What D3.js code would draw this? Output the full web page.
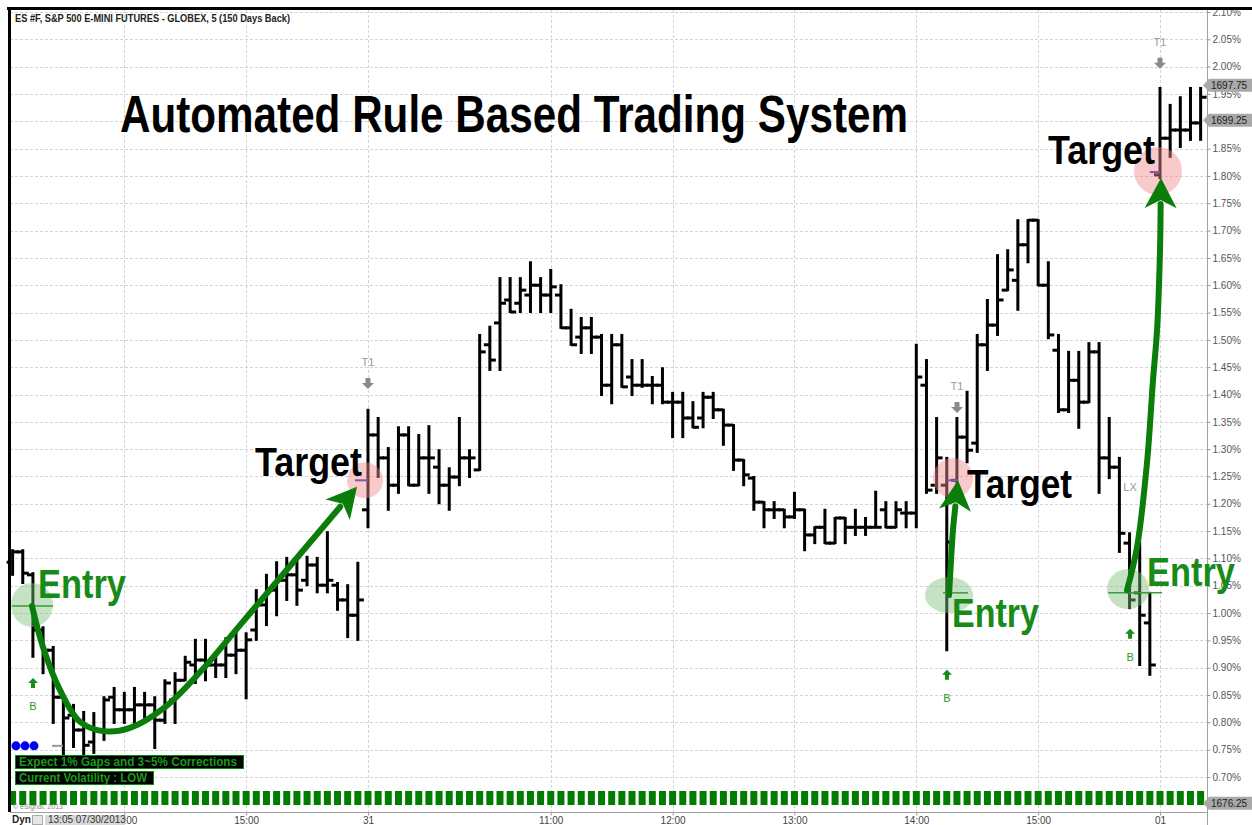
<!DOCTYPE html>
<html>
<head>
<meta charset="utf-8">
<script src="https://cdn.jsdelivr.net/npm/d3@7"></script>
<style>
body { margin: 0; background: #fff; }
svg { display: block; }
text { font-family: "Liberation Sans", Arial, sans-serif; }
.narrow { font-family: "Liberation Sans Narrow", "Arial Narrow", "Liberation Sans", Arial, sans-serif; font-weight: bold; }
</style>
</head>
<body>
<div id="main"></div>
<script>
const ctx = {
    w: 1252,
    h: 825,
    x0: 12.6,
    step: 10.154,
    plotR: 1207,
    axisY: 812
};

// 5 minute OHLC bars, values in % (right axis)
const opens = [
    1.093, 1.112, 1.070, 0.969, 0.932, 0.846, 0.813, 0.786, 0.764, 0.786,
    0.846, 0.823, 0.823, 0.832, 0.832, 0.804, 0.841, 0.877, 0.905, 0.914,
    0.905, 0.905, 0.923, 0.932, 0.969, 1.015, 1.042, 1.060, 1.070, 1.060,
    1.088, 1.051, 1.051, 1.024, 0.996,
    1.189, 1.326, 1.284, 1.234, 1.326, 1.234, 1.284, 1.267, 1.234, 1.249,
    1.284, 1.262, 1.491, 1.531, 1.573, 1.567, 1.582, 1.600, 1.582, 1.582,
    1.522, 1.505, 1.522, 1.505, 1.417, 1.491, 1.432, 1.417, 1.417, 1.417,
    1.386, 1.386, 1.357, 1.357, 1.395, 1.372, 1.344, 1.280, 1.247, 1.203,
    1.189, 1.189, 1.176, 1.189, 1.143, 1.157, 1.128, 1.174, 1.157, 1.157,
    1.157, 1.189, 1.157, 1.183, 1.183, 1.417, 1.234, 1.234, 1.243, 1.322,
    1.311, 1.491, 1.527, 1.591, 1.609, 1.674, 1.719, 1.600, 1.481, 1.372,
    1.426, 1.386, 1.478, 1.284, 1.267, 1.128, 1.037, 0.982,
    1.802, 1.869, 1.884, 1.884, 1.897
];
const highs = [
    1.115, 1.115, 1.073, 0.974, 0.938, 0.846, 0.832, 0.819, 0.817, 0.846,
    0.863, 0.854, 0.863, 0.854, 0.846, 0.877, 0.890, 0.920, 0.951, 0.951,
    0.923, 0.954, 0.969, 0.963, 1.042, 1.070, 1.093, 1.101, 1.097, 1.103,
    1.101, 1.148, 1.055, 1.051, 1.092,
    1.372, 1.357, 1.302, 1.340, 1.340, 1.326, 1.342, 1.298, 1.265, 1.357,
    1.298, 1.509, 1.524, 1.613, 1.613, 1.613, 1.642, 1.613, 1.628, 1.600,
    1.555, 1.540, 1.540, 1.509, 1.509, 1.509, 1.463, 1.463, 1.432, 1.448,
    1.403, 1.403, 1.386, 1.403, 1.403, 1.372, 1.344, 1.280, 1.249, 1.203,
    1.203, 1.189, 1.220, 1.189, 1.157, 1.189, 1.174, 1.174, 1.189, 1.174,
    1.222, 1.203, 1.203, 1.203, 1.491, 1.463, 1.357, 1.284, 1.357, 1.405,
    1.509, 1.573, 1.655, 1.664, 1.719, 1.719, 1.719, 1.642, 1.509, 1.478,
    1.478, 1.494, 1.494, 1.357, 1.284, 1.146, 1.128, 1.037,
    1.961, 1.930, 1.944, 1.961, 1.961
];
const lows = [
    1.070, 1.055, 0.920, 0.890, 0.799, 0.731, 0.755, 0.731, 0.744, 0.768,
    0.799, 0.799, 0.799, 0.804, 0.753, 0.799, 0.799, 0.877, 0.872, 0.877,
    0.883, 0.883, 0.890, 0.844, 0.951, 0.978, 0.996, 1.024, 1.015, 1.051,
    1.038, 1.038, 1.006, 0.956, 0.951,
    1.157, 1.249, 1.189, 1.220, 1.234, 1.234, 1.220, 1.201, 1.189, 1.234,
    1.249, 1.262, 1.445, 1.445, 1.551, 1.551, 1.551, 1.551, 1.551, 1.522,
    1.491, 1.476, 1.476, 1.399, 1.384, 1.414, 1.399, 1.414, 1.384, 1.384,
    1.322, 1.322, 1.340, 1.340, 1.357, 1.308, 1.262, 1.234, 1.189, 1.157,
    1.174, 1.157, 1.174, 1.115, 1.128, 1.128, 1.128, 1.128, 1.143, 1.143,
    1.157, 1.157, 1.157, 1.157, 1.157, 1.220, 1.220, 0.932, 1.238, 1.276,
    1.295, 1.445, 1.509, 1.591, 1.555, 1.642, 1.600, 1.503, 1.368, 1.368,
    1.339, 1.386, 1.220, 1.247, 1.112, 1.009, 0.905, 0.887,
    1.796, 1.835, 1.853, 1.866, 1.866
];
const closes = [
    1.112, 1.073, 0.969, 0.932, 0.846, 0.808, 0.786, 0.758, 0.786, 0.841,
    0.823, 0.823, 0.832, 0.832, 0.804, 0.872, 0.877, 0.910, 0.914, 0.905,
    0.905, 0.923, 0.932, 0.951, 1.015, 1.042, 1.060, 1.070, 1.042, 1.088,
    1.051, 1.060, 1.024, 0.996, 1.024,
    1.326, 1.284, 1.234, 1.326, 1.234, 1.284, 1.284, 1.234, 1.249, 1.284,
    1.284, 1.478, 1.463, 1.567, 1.551, 1.591, 1.600, 1.582, 1.597, 1.522,
    1.491, 1.522, 1.505, 1.417, 1.491, 1.414, 1.417, 1.417, 1.417, 1.386,
    1.386, 1.357, 1.340, 1.395, 1.372, 1.344, 1.280, 1.253, 1.203, 1.189,
    1.189, 1.176, 1.189, 1.143, 1.157, 1.128, 1.174, 1.157, 1.157, 1.157,
    1.157, 1.157, 1.189, 1.183, 1.432, 1.225, 1.284, 1.130, 1.322, 1.298,
    1.491, 1.527, 1.573, 1.628, 1.674, 1.719, 1.600, 1.509, 1.372, 1.426,
    1.386, 1.478, 1.284, 1.267, 1.146, 1.024, 0.996, 0.905,
    1.869, 1.884, 1.884, 1.897, 1.944
];

// axes
const yTicks = [0.70, 0.75, 0.80, 0.85, 0.90, 0.95, 1.00, 1.05, 1.10, 1.15, 1.20,
    1.25, 1.30, 1.35, 1.40, 1.45, 1.50, 1.55, 1.60, 1.65, 1.70, 1.75, 1.80,
    1.85, 1.90, 1.95, 2.00, 2.05, 2.10];
const timeTickIdx = [11, 23, 35, 53, 65, 77, 89, 101, 113];
const timeTickLabels = ["14:00", "15:00", "31", "11:00", "12:00", "13:00", "14:00", "15:00", "01"];

// price flags on the right axis
const flagValues = [1.966, 1.902, 0.652];
const flagLabels = ["1697.75", "1699.25", "1676.25"];

// annotations, in [bar index, %]
const arrowPaths = [
    [[1.91, 1.013], [2.99, 0.938], [4.67, 0.859], [6.64, 0.801], [8.90, 0.784], [11.56, 0.790],
     [15.01, 0.828], [18.46, 0.892], [22.40, 0.978], [33.92, 1.231]],
    [[92.22, 1.033], [92.42, 1.097], [92.61, 1.152], [93.11, 1.243]],
    [[109.75, 1.042], [110.74, 1.121], [111.72, 1.275], [112.31, 1.426], [112.71, 1.518],
     [113.0, 1.664], [113.1, 1.796]]
];
const targetCircles = [[34.71, 1.243, 18], [92.61, 1.247, 20], [112.8, 1.809, 24]];
const entryCircles = [[1.91, 1.015, 21, 22], [92.22, 1.033, 24, 18], [109.85, 1.044, 21, 20]];
const entryLines = [[-0.06, 3.98, 1.013], [91.63, 94.09, 1.037], [107.9, 113.2, 1.037]];
const targetMarks = [[33.72, 35.0, 1.243], [92.02, 93.11, 1.243], [112.0, 113.0, 1.807]];
const buyMarks = [[2.01, 0.872], [92.02, 0.887], [110.05, 0.962]];
const t1Marks = [[35.0, 1.421], [93.01, 1.377], [113.0, 2.007]];
const targetTexts = [[23.87, 1.251, 107], [93.99, 1.211, 105], [101.97, 1.822, 107]];
const entryTexts = [[2.50, 1.027, 88], [92.51, 0.974, 87], [111.72, 1.049, 88]];
const blueDots = [0.33, 1.22, 2.11];

function createViz() {
    let svg = d3.select("#main").append("svg")
        .attr("width", ctx.w)
        .attr("height", ctx.h);

    let x = d3.scaleLinear()
        .domain([0, 117])
        .range([ctx.x0, ctx.x0 + 117 * ctx.step]);
    let y = d3.scaleLinear()
        .domain([0.70, 2.10])
        .range([777, 12]);

    // grid
    let grid = svg.append("g").attr("id", "grid");
    grid.selectAll("line.h").data(yTicks).enter().append("line")
        .attr("x1", 10).attr("x2", ctx.plotR)
        .attr("y1", (d) => Math.round(y(d)) + 0.5)
        .attr("y2", (d) => Math.round(y(d)) + 0.5)
        .attr("stroke", "#d4d4d4")
        .attr("stroke-dasharray", "3,2");
    grid.selectAll("line.v").data(timeTickIdx).enter().append("line")
        .attr("x1", (d) => Math.round(x(d)) + 0.5)
        .attr("x2", (d) => Math.round(x(d)) + 0.5)
        .attr("y1", 10).attr("y2", ctx.axisY)
        .attr("stroke", "#d4d4d4")
        .attr("stroke-dasharray", "3,2");

    // right axis
    let yAxis = d3.axisRight(y)
        .tickValues(yTicks)
        .tickFormat((d) => d.toFixed(2) + "%")
        .tickSize(3);
    let yAxisG = svg.append("g")
        .attr("transform", "translate(" + (ctx.plotR + 0.5) + ",0)")
        .call(yAxis);
    yAxisG.select(".domain").remove();
    yAxisG.selectAll("line").attr("stroke", "#999");
    yAxisG.selectAll("text")
        .attr("x", 5)
        .attr("fill", "#555")
        .style("font-size", "10px")
        .style("font-family", "'Liberation Sans', Arial, sans-serif");
    svg.append("line")
        .attr("x1", ctx.plotR + 0.5).attr("x2", ctx.plotR + 0.5)
        .attr("y1", 8).attr("y2", 825)
        .attr("stroke", "#a0a0a0");

    // bottom axis
    let xAxis = d3.axisBottom(x)
        .tickValues(timeTickIdx)
        .tickFormat((d, i) => timeTickLabels[i])
        .tickSize(3);
    let xAxisG = svg.append("g")
        .attr("transform", "translate(0," + (ctx.axisY + 0.5) + ")")
        .call(xAxis);
    xAxisG.select(".domain").remove();
    xAxisG.selectAll("line").attr("stroke", "#999");
    xAxisG.selectAll("text")
        .attr("y", 4)
        .attr("fill", "#444")
        .style("font-size", "10px")
        .style("font-family", "'Liberation Sans', Arial, sans-serif");
    svg.append("line")
        .attr("x1", 10).attr("x2", ctx.plotR)
        .attr("y1", ctx.axisY + 0.5).attr("y2", ctx.axisY + 0.5)
        .attr("stroke", "#a0a0a0");

    // bars
    let bars = d3.range(opens.length).map((i) => ({ i: i, o: opens[i], h: highs[i], l: lows[i], c: closes[i] }));
    let barG = svg.append("g").attr("id", "bars")
        .attr("stroke", "#000")
        .attr("stroke-width", 3);
    let bG = barG.selectAll("g").data(bars).enter().append("g");
    bG.append("line")
        .attr("x1", (d) => x(d.i)).attr("x2", (d) => x(d.i))
        .attr("y1", (d) => y(d.h) - 1).attr("y2", (d) => y(d.l) + 1);
    bG.append("line")
        .attr("x1", (d) => x(d.i) - 6).attr("x2", (d) => x(d.i))
        .attr("y1", (d) => y(d.o)).attr("y2", (d) => y(d.o));
    bG.append("line")
        .attr("x1", (d) => x(d.i)).attr("x2", (d) => x(d.i) + 6)
        .attr("y1", (d) => y(d.c)).attr("y2", (d) => y(d.c));

    // green indicator squares at bottom
    svg.append("g").selectAll("rect").data(bars).enter().append("rect")
        .attr("x", (d) => x(d.i) - 3.5)
        .attr("y", 791)
        .attr("width", 7)
        .attr("height", 14)
        .attr("fill", "#007d00");
    svg.append("text")
        .attr("x", 13).attr("y", 809)
        .attr("fill", "#888")
        .style("font-size", "7px")
        .text("© eSignal, 2013");

    // annotation layer
    let ann = svg.append("g").attr("id", "annotations");

    ann.selectAll("circle.entry").data(entryCircles).enter().append("ellipse")
        .attr("cx", (d) => x(d[0])).attr("cy", (d) => y(d[1]))
        .attr("rx", (d) => d[2]).attr("ry", (d) => d[3])
        .attr("fill", "#7fbf7f").attr("opacity", 0.45);
    ann.selectAll("circle.target").data(targetCircles).enter().append("circle")
        .attr("cx", (d) => x(d[0])).attr("cy", (d) => y(d[1]))
        .attr("r", (d) => d[2])
        .attr("fill", "#f08a8a").attr("opacity", 0.45);

    ann.selectAll("line.entry").data(entryLines).enter().append("line")
        .attr("x1", (d) => x(d[0])).attr("x2", (d) => x(d[1]))
        .attr("y1", (d) => y(d[2])).attr("y2", (d) => y(d[2]))
        .attr("stroke", "#3a9a3a").attr("stroke-width", 1.5);
    ann.selectAll("line.tgt").data(targetMarks).enter().append("line")
        .attr("x1", (d) => x(d[0])).attr("x2", (d) => x(d[1]))
        .attr("y1", (d) => y(d[2])).attr("y2", (d) => y(d[2]))
        .attr("stroke", "#8a4fb0").attr("stroke-width", 2);

    // blue dots and grey dash
    ann.selectAll("circle.blue").data(blueDots).enter().append("circle")
        .attr("cx", (d) => x(d)).attr("cy", y(0.757))
        .attr("r", 4.5).attr("fill", "#0000ee");
    ann.append("line")
        .attr("x1", x(3.88)).attr("x2", x(4.96))
        .attr("y1", y(0.757)).attr("y2", y(0.757))
        .attr("stroke", "#999").attr("stroke-width", 2);

    // big green arrows
    let line = d3.line().curve(d3.curveCatmullRom.alpha(0.5));
    arrowPaths.forEach(function (pts) {
        let px = pts.map((d) => [x(d[0]), y(d[1])]);
        let n = px.length;
        let tip = px[n - 1], prev = px[n - 2];
        let dx = tip[0] - prev[0], dy = tip[1] - prev[1];
        let len = Math.hypot(dx, dy);
        let ux = dx / len, uy = dy / len;
        let headL = 30, headW = 16;
        let base = [tip[0] - ux * headL, tip[1] - uy * headL];
        let body = px.slice(0, n - 1).concat([[base[0] + ux * 4, base[1] + uy * 4]]);
        ann.append("path")
            .attr("d", line(body))
            .attr("fill", "none")
            .attr("stroke", "#0b7d0b")
            .attr("stroke-width", 6)
            .attr("stroke-linecap", "round");
        ann.append("polygon")
            .attr("points", [
                tip,
                [base[0] - uy * headW, base[1] + ux * headW],
                [base[0] + ux * 8, base[1] + uy * 8],
                [base[0] + uy * headW, base[1] - ux * headW]
            ].map((p) => p.join(",")).join(" "))
            .attr("fill", "#0b7d0b");
    });

    // buy markers
    let upArrow = "0,-5 5,0 2,0 2,5 -2,5 -2,0 -5,0";
    let bm = ann.selectAll("g.buy").data(buyMarks).enter().append("g")
        .attr("transform", (d) => "translate(" + x(d[0]) + "," + y(d[1]) + ")");
    bm.append("polygon").attr("points", upArrow).attr("fill", "#1a8a1a");
    bm.append("text").attr("y", 27).attr("text-anchor", "middle")
        .attr("fill", "#2a9a2a").style("font-size", "11px").text("B");

    // T1 markers
    let downArrow = "0,6 6,0 2.5,0 2.5,-5 -2.5,-5 -2.5,0 -6,0";
    let tm = ann.selectAll("g.t1").data(t1Marks).enter().append("g")
        .attr("transform", (d) => "translate(" + x(d[0]) + "," + y(d[1]) + ")");
    tm.append("polygon").attr("points", downArrow).attr("fill", "#8a8a8a");
    tm.append("text").attr("y", -17).attr("text-anchor", "middle")
        .attr("fill", "#999").style("font-size", "11px").text("T1");
    ann.append("text")
        .attr("x", x(110.05)).attr("y", y(1.231) + 4)
        .attr("text-anchor", "middle")
        .attr("fill", "#999").style("font-size", "11px").text("LX");

    // big labels
    ann.selectAll("text.target").data(targetTexts).enter().append("text")
        .attr("class", "narrow")
        .attr("x", (d) => x(d[0])).attr("y", (d) => y(d[1]))
        .attr("textLength", (d) => d[2])
        .attr("lengthAdjust", "spacingAndGlyphs")
        .attr("fill", "#000")
        .style("font-size", "40px")
        .text("Target");
    ann.selectAll("text.entry").data(entryTexts).enter().append("text")
        .attr("class", "narrow")
        .attr("x", (d) => x(d[0])).attr("y", (d) => y(d[1]))
        .attr("textLength", (d) => d[2])
        .attr("lengthAdjust", "spacingAndGlyphs")
        .attr("fill", "#188a18")
        .style("font-size", "40px")
        .text("Entry");

    // title
    svg.append("text")
        .attr("class", "narrow")
        .attr("x", 120).attr("y", 132)
        .attr("textLength", 788)
        .attr("lengthAdjust", "spacingAndGlyphs")
        .attr("fill", "#000")
        .style("font-size", "52px")
        .text("Automated Rule Based Trading System");

    // info boxes
    let info = [["Expect 1% Gaps and 3~5% Corrections", 755, 228, 218], ["Current Volatility : LOW", 771, 138, 128]];
    info.forEach(function (d) {
        svg.append("rect")
            .attr("x", 15.5).attr("y", d[1] + 0.5)
            .attr("width", d[2]).attr("height", 13)
            .attr("fill", "#000").attr("stroke", "#0a8a0a");
        svg.append("text")
            .attr("x", 19).attr("y", d[1] + 11)
            .attr("textLength", d[3])
            .attr("lengthAdjust", "spacingAndGlyphs")
            .attr("fill", "#1a9a1a")
            .style("font-size", "12px").style("font-weight", "bold")
            .text(d[0]);
    });

    // price flags
    flagValues.forEach(function (v, i) {
        let yy = y(v);
        svg.append("polygon")
            .attr("points", [[1203, yy], [1209, yy - 6.5], [1252, yy - 6.5], [1252, yy + 6.5], [1209, yy + 6.5]]
                .map((p) => p.join(",")).join(" "))
            .attr("fill", "#a9a9a9");
        svg.append("text")
            .attr("x", 1211).attr("y", yy + 4)
            .attr("fill", "#222")
            .style("font-size", "10px")
            .text(flagLabels[i]);
    });

    // header and frame
    svg.append("text")
        .attr("x", 15).attr("y", 22)
        .attr("textLength", 275)
        .attr("lengthAdjust", "spacingAndGlyphs")
        .attr("fill", "#222")
        .style("font-size", "10px").style("font-weight", "bold")
        .text("ES #F, S&P 500 E-MINI FUTURES - GLOBEX, 5 (150 Days Back)");
    svg.append("line")
        .attr("x1", 7).attr("x2", ctx.w)
        .attr("y1", 8.5).attr("y2", 8.5)
        .attr("stroke", "#000").attr("stroke-width", 3);
    svg.append("line")
        .attr("x1", 9.5).attr("x2", 9.5)
        .attr("y1", 7).attr("y2", ctx.axisY)
        .attr("stroke", "#000").attr("stroke-width", 3);

    // bottom-left status
    svg.append("text")
        .attr("x", 12).attr("y", 823)
        .attr("fill", "#222")
        .style("font-size", "10px").style("font-weight", "bold")
        .text("Dyn");
    svg.append("rect")
        .attr("x", 32.5).attr("y", 815.5).attr("width", 10).attr("height", 9)
        .attr("fill", "#e6e6e6").attr("stroke", "#aaa");
    svg.append("rect")
        .attr("x", 45).attr("y", 815).attr("width", 80).attr("height", 10)
        .attr("fill", "#d8d8d8");
    svg.append("text")
        .attr("x", 48).attr("y", 823)
        .attr("fill", "#333")
        .style("font-size", "10px")
        .text("13:05 07/30/2013");
}

createViz();
</script>
</body>
</html>
